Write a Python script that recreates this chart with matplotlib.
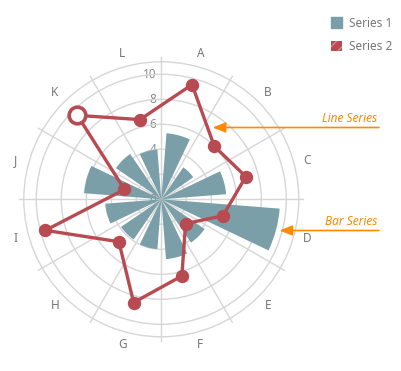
import numpy as np
import matplotlib.pyplot as plt
from matplotlib.patches import Patch
from matplotlib.transforms import ScaledTranslation

categories = ["A", "B", "C", "D", "E", "F", "G", "H", "I", "J", "K", "L"]
bar_values = [5.3, 3.1, 5.2, 9.5, 4.2, 4.8, 4.0, 3.9, 4.5, 6.2, 4.4, 4.0]
line_values = [9.5, 6.0, 7.0, 5.1, 2.75, 6.35, 8.55, 4.8, 9.6, 3.05, 9.5, 6.6]
r_ticks = [0, 2, 4, 6, 8, 10]

BAR_COLOR = "#7a9fa8"
LINE_COLOR = "#b84a51"
GRID_COLOR = "#d6d6d6"
TEXT_COLOR = "#767676"
NOTE_COLOR = "#ff8a00"

W, H = 402, 371
plt.rcParams["font.family"] = ["Noto Sans", "DejaVu Sans"]

fig = plt.figure(figsize=(W / 100, H / 100), dpi=100)

cx, cy, R = 161.3, 199.3, 137.5
ax = fig.add_axes([(cx - R) / W, (H - cy - R) / H, 2 * R / W, 2 * R / H],
                  projection="polar")
ax.set_theta_zero_location("N")
ax.set_theta_direction(-1)
ax.set_ylim(0, 11)

n = len(categories)
step = 2 * np.pi / n
theta = np.arange(n) * step + step / 2

# grid: circles at 2..10, spokes every 30 degrees
ax.set_yticks([2, 4, 6, 8, 10])
ax.set_yticklabels([])
ax.set_xticks([])
ax.yaxis.grid(True, color=GRID_COLOR, lw=1)
ax.spines["polar"].set_color(GRID_COLOR)
ax.spines["polar"].set_linewidth(1)
for t in np.arange(n) * step:
    ax.plot([t, t], [0, 11.35], color=GRID_COLOR, lw=1, zorder=0.5, clip_on=False)

ax.bar(theta, bar_values, width=np.deg2rad(21), color=BAR_COLOR, zorder=2)

# closed line series
tl = np.append(theta, theta[0])
vl = np.append(line_values, line_values[0])
ax.plot(tl, vl, color=LINE_COLOR, lw=2.4, zorder=3)
ax.plot(theta, line_values, "o", color=LINE_COLOR, ms=8.6, zorder=4)
k = categories.index("K")
ax.plot(theta[k], line_values[k], "o", mfc="white", mec=LINE_COLOR,
        ms=12, mew=2.6, zorder=5)

for t, c in zip(theta, categories):
    ax.text(t, 12.05, c, ha="center", va="center", fontsize=8.5,
            color=TEXT_COLOR, clip_on=False)

off = ax.transData + ScaledTranslation(-0.05, 0, fig.dpi_scale_trans)
for r in r_ticks:
    ax.text(0, r, str(r), transform=off, ha="right", va="center",
            fontsize=8.5, color="#8c8c8c", zorder=1)


def fp(x, y):
    return (x, H - y)


# annotations
for label, tip, y, tx in [("Line Series", 212.7, 127.5, 377),
                          ("Bar Series", 279.5, 230.5, 377)]:
    ax.annotate("", xy=fp(tip, y), xytext=fp(379, y),
                xycoords="figure pixels", textcoords="figure pixels",
                arrowprops=dict(arrowstyle="-|>,head_length=0.55,head_width=0.22",
                                color=NOTE_COLOR, lw=1.2, mutation_scale=14,
                                shrinkA=0, shrinkB=0))
    fig.text(tx / W, 1 - (y - 2.5) / H, label, ha="right", va="bottom",
             fontsize=8.5, style="italic", color=NOTE_COLOR)

handles = [Patch(facecolor=BAR_COLOR, edgecolor=BAR_COLOR),
           Patch(facecolor=LINE_COLOR, edgecolor="#d9868b", hatch="///", lw=0)]
fig.legend(handles, ["Series 1", "Series 2"], loc="upper left",
           bbox_to_anchor=(320 / W, 1 - 6 / H), frameon=False,
           handlelength=0.95, handleheight=0.95, handletextpad=0.6,
           labelspacing=0.85, fontsize=8.5, labelcolor=TEXT_COLOR)

fig.savefig("out.png", dpi=100)
